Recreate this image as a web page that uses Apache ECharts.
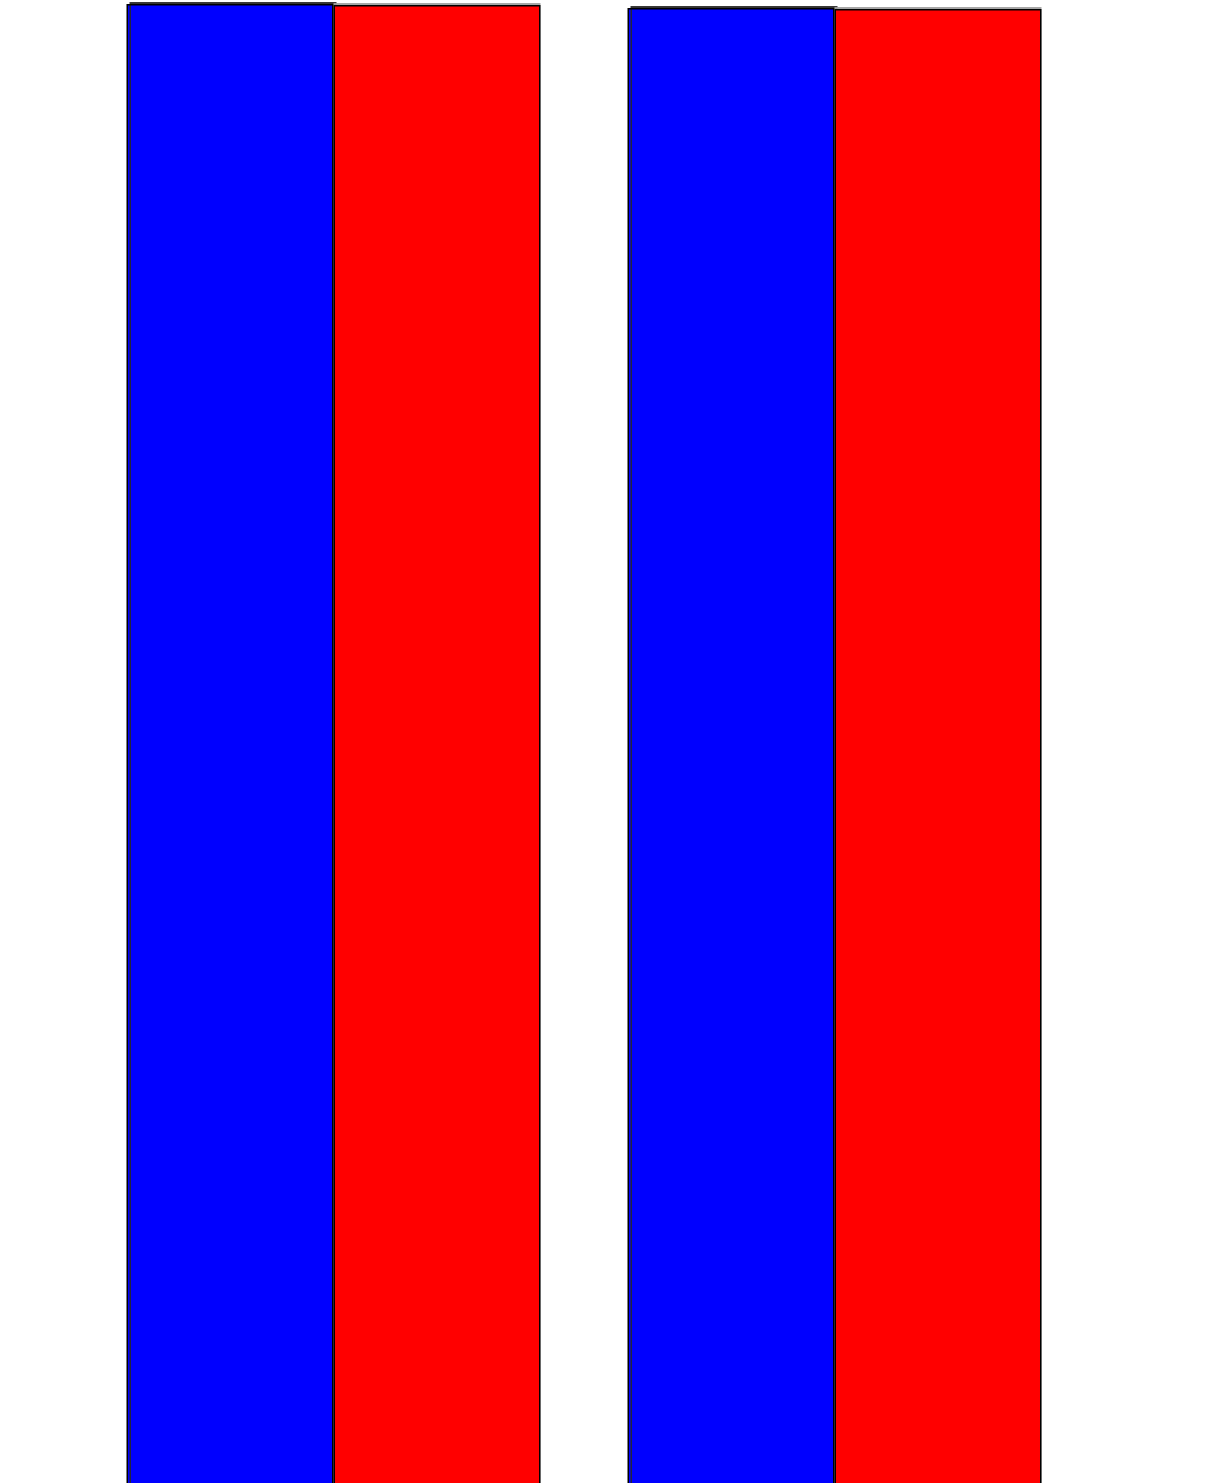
<!DOCTYPE html>
<html>
<head>
<meta charset="utf-8">
<script src="https://cdn.jsdelivr.net/npm/echarts@6/dist/echarts.min.js"></script>
<style>
html,body{margin:0;padding:0;background:#fff;}
#chart{width:1214px;height:1483px;}
</style>
</head>
<body>
<div id="chart"></div>
<script>
const categories = ['A', 'B'];
const blueValues = [99.73, 99.47];
const redValues = [99.67, 99.40];
const yMin = 0;
const yMax = 100;

const chart = echarts.init(document.getElementById('chart'), null, {renderer: 'canvas'});
chart.setOption({
  animation: false,
  backgroundColor: '#ffffff',
  grid: {left: 83, width: 1002, top: 0, height: 1500, containLabel: false, outerBoundsMode: 'none'},
  xAxis: {
    type: 'category',
    data: categories,
    show: false
  },
  yAxis: {
    type: 'value',
    min: yMin,
    max: yMax,
    show: false,
    splitLine: {show: false}
  },
  series: [
    {
      type: 'bar',
      data: blueValues,
      barWidth: 207,
      barGap: '0%',
      itemStyle: {
        color: '#0000ff',
        borderColor: '#000000',
        borderWidth: 1.5,
        shadowColor: 'rgba(40,40,40,0.9)',
        shadowOffsetX: 3,
        shadowOffsetY: -2,
        shadowBlur: 0
      }
    },
    {
      type: 'bar',
      data: redValues,
      barWidth: 207,
      barGap: '0%',
      itemStyle: {
        color: '#ff0000',
        borderColor: '#000000',
        borderWidth: 1.5,
        shadowColor: 'rgba(160,160,160,0.9)',
        shadowOffsetX: 0,
        shadowOffsetY: -2,
        shadowBlur: 0
      }
    }
  ]
});
</script>
</body>
</html>
